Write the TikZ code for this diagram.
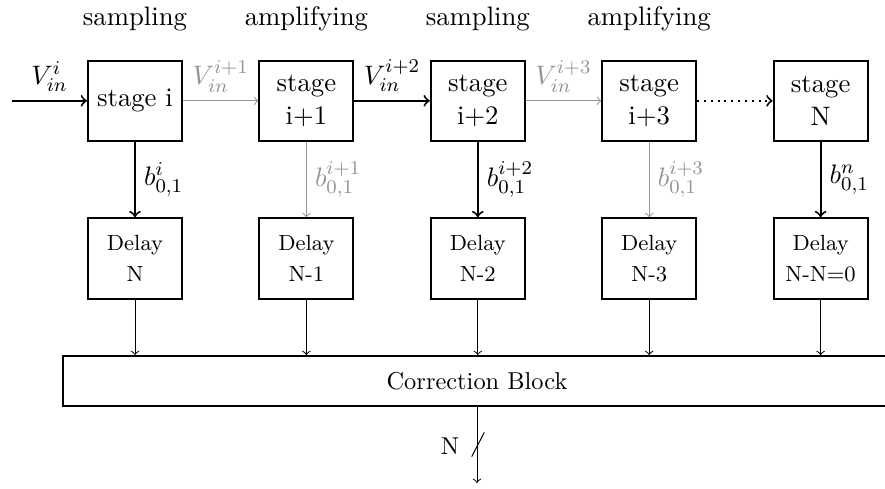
\documentclass[tikz,border=0pt]{standalone}
\usetikzlibrary{positioning}
\begin{document}
\begin{tikzpicture}[x=0.4098pt,y=-0.4098pt,
  stagebox/.style={draw,thick,minimum width=38.5pt,minimum height=32.7pt,align=center,inner sep=0pt,font=\fontsize{10.95}{13.6}\selectfont},
  delaybox/.style={draw,thick,minimum width=38.5pt,minimum height=33pt,align=center,inner sep=0pt,font=\fontsize{9}{12.7}\selectfont},
  lbl/.style={font=\fontsize{10.95}{13.6}\selectfont},
  phase/.style={anchor=base,font=\fontsize{10.95}{13.6}\selectfont},
  strong/.style={thick,->},
  weak/.style={black!42,->},
  thinarr/.style={->}]
\useasboundingbox (0,0) rectangle (885,488);
% phase labels
\node[phase] (p0) at (135,25) {sampling};
\node[phase] (p1) at (306.4,25) {amplifying};
\node[phase] (p2) at (477.8,25) {sampling};
\node[phase] (p3) at (649.2,25) {amplifying};
% stages
\node[stagebox] (s0) at (135,100.8) {stage i};
\node[stagebox] (s1) at (306.4,100.8) {stage\\i+1};
\node[stagebox] (s2) at (477.8,100.8) {stage\\i+2};
\node[stagebox] (s3) at (649.2,100.8) {stage\\i+3};
\node[stagebox] (s4) at (820.6,100.8) {stage\\N};
% delays
\node[delaybox] (d0) at (135,258.5) {Delay\\N};
\node[delaybox] (d1) at (306.4,258.5) {Delay\\N-1};
\node[delaybox] (d2) at (477.8,258.5) {Delay\\N-2};
\node[delaybox] (d3) at (649.2,258.5) {Delay\\N-3};
\node[delaybox] (d4) at (820.6,258.5) {Delay\\N-N=0};
% correction block
\node[draw,thick,minimum width=339.3pt,minimum height=20.4pt,inner sep=0pt,font=\fontsize{10}{12}\selectfont] (cb) at (477,381) {Correction Block};
\coordinate (in) at (12,100.8);
\coordinate (out) at (477,483);
% horizontal chain
\draw[strong] (in) -- node[above,lbl]{$V_{in}^{i}$} (s0);
\draw[weak] (s0) -- node[above,lbl]{$V_{in}^{i+1}$} (s1);
\draw[strong] (s1) -- node[above,lbl]{$V_{in}^{i+2}$} (s2);
\draw[weak] (s2) -- node[above,lbl]{$V_{in}^{i+3}$} (s3);
\draw[thick,dotted,->] (s3) -- (s4);
% stage to delay
\draw[strong] (s0) -- node[right,lbl]{$b^{i}_{0,1}$} (d0);
\draw[weak] (s1) -- node[right,lbl]{$b^{i+1}_{0,1}$} (d1);
\draw[strong] (s2) -- node[right,lbl]{$b^{i+2}_{0,1}$} (d2);
\draw[weak] (s3) -- node[right,lbl]{$b^{i+3}_{0,1}$} (d3);
\draw[strong] (s4) -- node[right,lbl]{$b^{n}_{0,1}$} (d4);
% delay to correction
\foreach \k in {0,...,4}{
  \draw[thinarr] (d\k) -- (d\k |- cb.north);
}
% output
\draw[thinarr] (cb) -- (out);
\coordinate (sl1) at (471.7,456.7);
\coordinate (sl2) at (484.3,432.3);
\draw (sl1) -- (sl2);
\node[font=\fontsize{10}{12}\selectfont] (nl) at (450,446) {N};
\end{tikzpicture}
\end{document}
